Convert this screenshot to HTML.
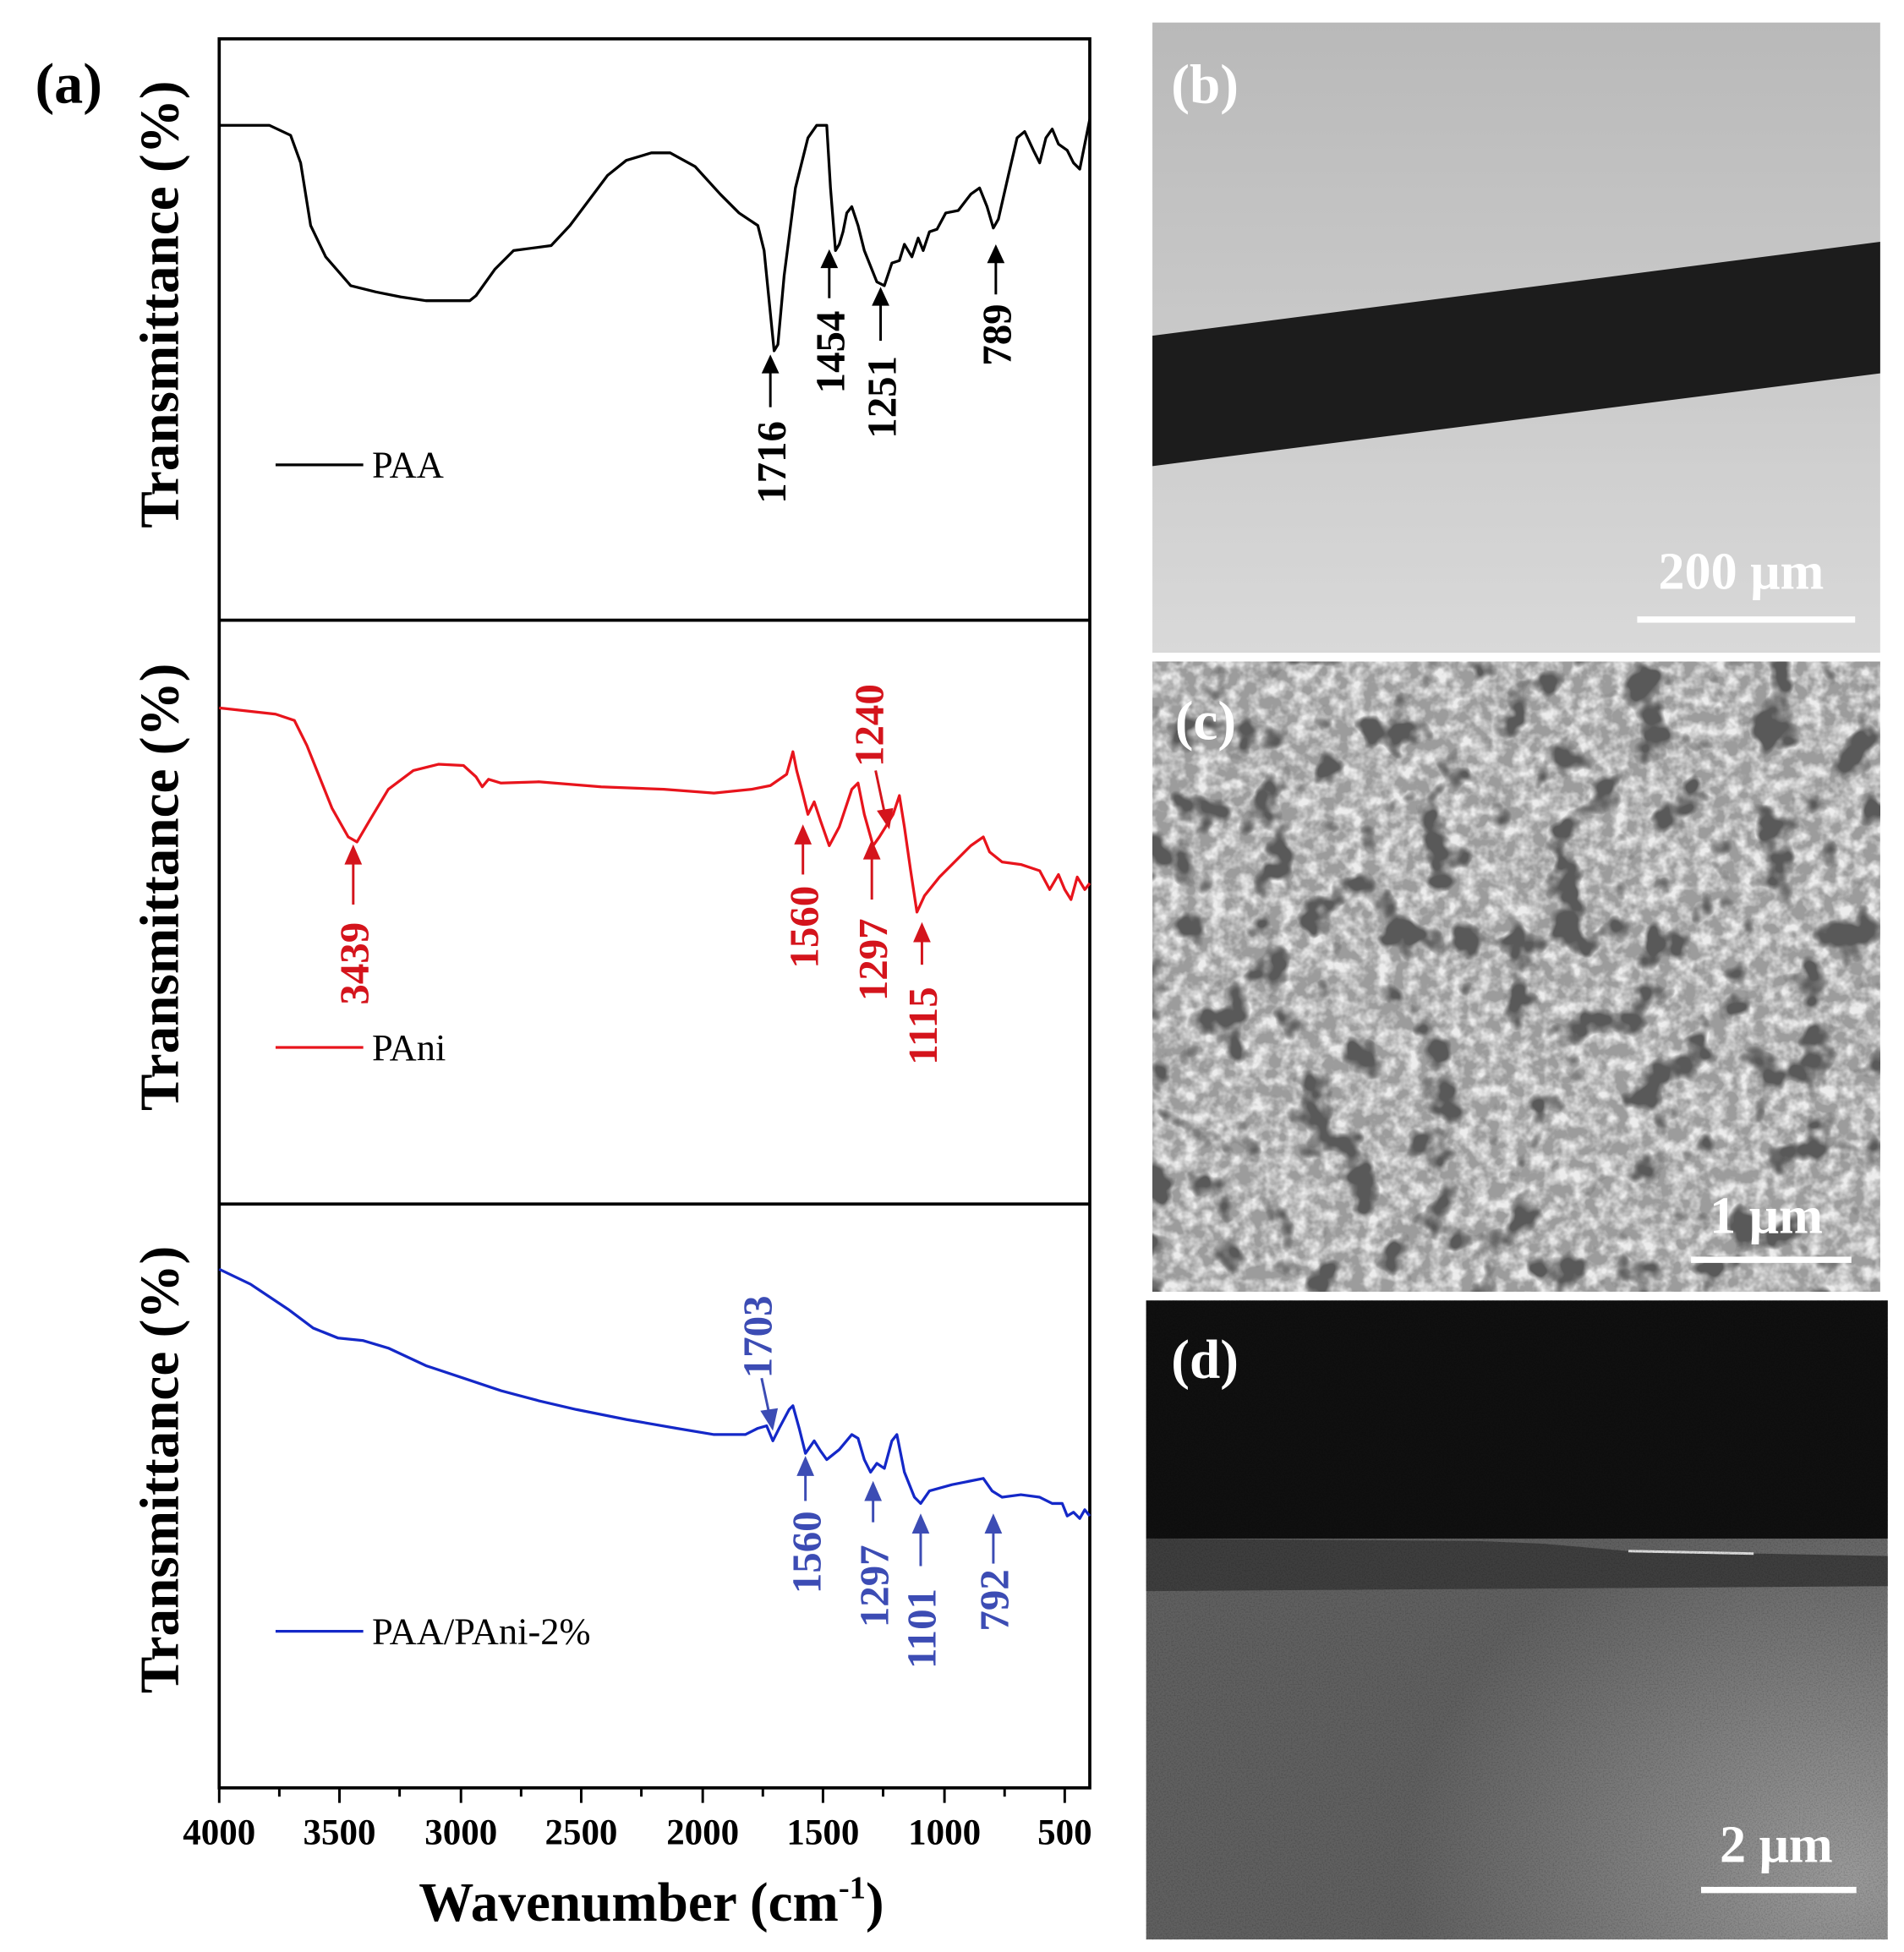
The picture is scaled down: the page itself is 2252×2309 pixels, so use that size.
<!DOCTYPE html>
<html><head><meta charset="utf-8"><style>html,body{margin:0;padding:0;background:#fff}svg{display:block}</style></head>
<body>
<svg width="2252" height="2309" viewBox="0 0 1520 1558" preserveAspectRatio="none" xmlns="http://www.w3.org/2000/svg" font-family="Liberation Serif, serif">
<defs>
<filter id="semholes" x="0" y="0" width="100%" height="100%">
<feTurbulence type="fractalNoise" baseFrequency="0.03" numOctaves="3" seed="7"/>
<feColorMatrix type="matrix" values="0 0 0 0 0.1  0 0 0 0 0.1  0 0 0 0 0.1  0 0 0 7 -4.0"/>
</filter>
<filter id="semgrain" x="0" y="0" width="100%" height="100%">
<feTurbulence type="fractalNoise" baseFrequency="0.09" numOctaves="3" seed="2"/>
<feColorMatrix type="matrix" values="0 0 0 0 0.85  0 0 0 0 0.85  0 0 0 0 0.85  0 0 0 2.5 -0.9"/>
</filter>
<filter id="noise" x="0" y="0" width="100%" height="100%">
<feTurbulence type="fractalNoise" baseFrequency="0.9" numOctaves="1" seed="5"/>
<feColorMatrix type="matrix" values="0 0 0 0 0  0 0 0 0 0  0 0 0 0 0  0 0 0 -0.6 0.35"/>
</filter>
<linearGradient id="gb" x1="0" y1="0" x2="0" y2="1"><stop offset="0" stop-color="#b9b9b9"/><stop offset="1" stop-color="#d9d9d9"/></linearGradient>
<radialGradient id="gd" cx="0.95" cy="0.9" r="0.6"><stop offset="0" stop-color="#9a9a9a"/><stop offset="1" stop-color="#606060"/></radialGradient>
</defs>

<!-- panel (a) -->
<text x="28" y="82" font-size="46" font-weight="bold">(a)</text>
<rect x="175" y="31" width="695" height="1396" fill="none" stroke="#000" stroke-width="2.5"/>
<line x1="175" y1="495" x2="870" y2="495" stroke="#000" stroke-width="2.5"/>
<line x1="175" y1="961" x2="870" y2="961" stroke="#000" stroke-width="2.5"/>
<g stroke="#000" stroke-width="2">
<line x1="175" y1="1427" x2="175" y2="1439"/><line x1="223" y1="1427" x2="223" y2="1434"/>
<line x1="271" y1="1427" x2="271" y2="1439"/><line x1="319" y1="1427" x2="319" y2="1434"/>
<line x1="368" y1="1427" x2="368" y2="1439"/><line x1="416" y1="1427" x2="416" y2="1434"/>
<line x1="464" y1="1427" x2="464" y2="1439"/><line x1="512" y1="1427" x2="512" y2="1434"/>
<line x1="561" y1="1427" x2="561" y2="1439"/><line x1="609" y1="1427" x2="609" y2="1434"/>
<line x1="657" y1="1427" x2="657" y2="1439"/><line x1="705" y1="1427" x2="705" y2="1434"/>
<line x1="754" y1="1427" x2="754" y2="1439"/><line x1="802" y1="1427" x2="802" y2="1434"/>
<line x1="850" y1="1427" x2="850" y2="1439"/>
</g>
<g font-size="29" font-weight="bold" text-anchor="middle">
<text x="175" y="1472">4000</text><text x="271" y="1472">3500</text><text x="368" y="1472">3000</text>
<text x="464" y="1472">2500</text><text x="561" y="1472">2000</text><text x="657" y="1472">1500</text>
<text x="754" y="1472">1000</text><text x="850" y="1472">500</text>
</g>
<text x="520" y="1533" font-size="44" font-weight="bold" text-anchor="middle">Wavenumber (cm<tspan dy="-18" font-size="26">-1</tspan><tspan dy="18">)</tspan></text>
<g font-size="44" font-weight="bold" text-anchor="middle">
<text transform="translate(142,243) rotate(-90)">Transmittance (%)</text>
<text transform="translate(142,708) rotate(-90)">Transmittance (%)</text>
<text transform="translate(142,1173) rotate(-90)">Transmittance (%)</text>
</g>

<!-- spectra -->
<polyline fill="none" stroke="#000" stroke-width="2.2" stroke-linejoin="round" points="175,100 215,100 232,108 240,130 248,180 260,205 280,228 300,233 320,237 340,240 375,240 380,236 395,215 410,200 425,198 440,196 455,180 470,160 485,140 500,128 520,122 535,122 555,133 575,155 590,170 605,180 610,200 615,250 618,280 621,275 626,220 635,150 645,110 652,100 660,100 663,150 667,200 670,195 673,185 676,170 680,165 685,180 690,200 700,225 706,228 712,210 718,208 722,195 728,205 733,190 737,200 742,185 748,183 755,170 765,168 775,155 782,150 788,165 793,182 797,175 805,140 812,110 818,105 825,120 830,130 835,110 840,103 845,115 852,120 857,130 862,135 866,115 870,95"/>
<polyline fill="none" stroke="#e8141c" stroke-width="2.2" stroke-linejoin="round" points="175,565 220,570 235,575 245,595 255,620 265,645 278,668 285,672 295,655 310,630 330,615 350,610 370,611 380,620 385,628 390,622 400,625 430,624 480,628 530,630 570,633 600,630 615,627 628,618 633,600 636,615 640,630 645,650 650,640 655,655 662,675 670,660 680,630 685,625 690,650 697,675 702,668 707,660 713,650 718,635 722,660 727,695 732,728 738,715 750,700 765,685 775,675 785,668 790,680 800,688 815,690 830,695 838,710 845,698 850,710 855,718 860,700 866,710 870,705"/>
<polyline fill="none" stroke="#1428c8" stroke-width="2.2" stroke-linejoin="round" points="175,1013 200,1025 230,1045 250,1060 270,1068 290,1070 310,1076 340,1090 370,1100 400,1110 430,1118 460,1125 500,1133 540,1140 570,1145 595,1145 605,1140 612,1138 617,1150 622,1140 630,1125 633,1122 638,1140 643,1160 650,1150 655,1158 660,1165 670,1157 680,1145 685,1148 690,1165 695,1175 700,1168 706,1172 712,1150 716,1145 722,1175 730,1195 735,1200 742,1190 760,1185 775,1182 785,1180 792,1190 800,1195 815,1193 830,1195 840,1200 848,1200 852,1210 857,1207 862,1212 866,1205 870,1210"/>

<!-- legends -->
<g font-size="30">
<line x1="220" y1="371" x2="290" y2="371" stroke="#000" stroke-width="2.2"/><text x="297" y="381">PAA</text>
<line x1="220" y1="836" x2="290" y2="836" stroke="#e8141c" stroke-width="2.2"/><text x="297" y="846">PAni</text>
<line x1="220" y1="1302" x2="290" y2="1302" stroke="#1428c8" stroke-width="2.2"/><text x="297" y="1312">PAA/PAni-2%</text>
</g>

<!-- annotations -->
<g font-size="33" font-weight="bold">
<g fill="#000" stroke="#000">
<text stroke="none" transform="translate(627,402) rotate(-90)">1716</text><line x1="615" y1="325" x2="615" y2="296" stroke-width="2"/><path d="M608,298 L615,283 L622,298Z" stroke="none"/>
<text stroke="none" transform="translate(674,314) rotate(-90)">1454</text><line x1="662" y1="238" x2="662" y2="212" stroke-width="2"/><path d="M655,214 L662,199 L669,214Z" stroke="none"/>
<text stroke="none" transform="translate(715,350) rotate(-90)">1251</text><line x1="703" y1="272" x2="703" y2="242" stroke-width="2"/><path d="M696,244 L703,229 L710,244Z" stroke="none"/>
<text stroke="none" transform="translate(807,292) rotate(-90)">789</text><line x1="795" y1="235" x2="795" y2="208" stroke-width="2"/><path d="M788,210 L795,195 L802,210Z" stroke="none"/>
</g>
<g fill="#d4141c" stroke="#d4141c">
<text stroke="none" transform="translate(294,802) rotate(-90)">3439</text><line x1="282" y1="722" x2="282" y2="688" stroke-width="2"/><path d="M275,690 L282,674 L289,690Z" stroke="none"/>
<text stroke="none" transform="translate(653,773) rotate(-90)">1560</text><line x1="641" y1="698" x2="641" y2="672" stroke-width="2"/><path d="M634,674 L641,658 L648,674Z" stroke="none"/>
<text stroke="none" transform="translate(708,799) rotate(-90)">1297</text><line x1="696" y1="718" x2="696" y2="684" stroke-width="2"/><path d="M689,686 L696,670 L703,686Z" stroke="none"/>
<text stroke="none" transform="translate(748,850) rotate(-90)">1115</text><line x1="736" y1="770" x2="736" y2="750" stroke-width="2"/><path d="M729,752 L736,736 L743,752Z" stroke="none"/>
<text stroke="none" transform="translate(705,612) rotate(-90)">1240</text><line x1="699" y1="615" x2="706" y2="648" stroke-width="2"/><path d="M700,647 L710,662 L713,645Z" stroke="none"/>
</g>
<g fill="#3c4cb4" stroke="#3c4cb4">
<text stroke="none" transform="translate(616,1100) rotate(-90)">1703</text><line x1="608" y1="1100" x2="614" y2="1128" stroke-width="2"/><path d="M607,1126 L617,1142 L621,1124Z" stroke="none"/>
<text stroke="none" transform="translate(655,1272) rotate(-90)">1560</text><line x1="643" y1="1198" x2="643" y2="1176" stroke-width="2"/><path d="M636,1178 L643,1162 L650,1178Z" stroke="none"/>
<text stroke="none" transform="translate(709,1299) rotate(-90)">1297</text><line x1="697" y1="1215" x2="697" y2="1196" stroke-width="2"/><path d="M690,1198 L697,1182 L704,1198Z" stroke="none"/>
<text stroke="none" transform="translate(747,1332) rotate(-90)">1101</text><line x1="735" y1="1250" x2="735" y2="1222" stroke-width="2"/><path d="M728,1224 L735,1208 L742,1224Z" stroke="none"/>
<text stroke="none" transform="translate(805,1302) rotate(-90)">792</text><line x1="793" y1="1248" x2="793" y2="1222" stroke-width="2"/><path d="M786,1224 L793,1208 L800,1224Z" stroke="none"/>
</g>
</g>

<!-- (b) -->
<rect x="920" y="18" width="581" height="503" fill="url(#gb)"/>
<polygon points="920,268 1501,193 1501,298 920,372" fill="#1c1c1c"/>
<text x="935" y="82" font-size="44" font-weight="bold" fill="#fff">(b)</text>
<text x="1390" y="470" font-size="42" font-weight="bold" fill="#fff" text-anchor="middle">200 μm</text>
<rect x="1307" y="492" width="174" height="5" fill="#fff"/>

<!-- (c) -->
<rect x="920" y="528" width="581" height="503" fill="#9c9c9c"/>
<rect x="920" y="528" width="581" height="503" filter="url(#semgrain)"/>
<rect x="920" y="528" width="581" height="503" filter="url(#semholes)"/>
<text x="938" y="590" font-size="44" font-weight="bold" fill="#fff">(c)</text>
<text x="1410" y="984" font-size="42" font-weight="bold" fill="#fff" text-anchor="middle">1 μm</text>
<rect x="1350" y="1003" width="128" height="5" fill="#fff"/>

<!-- (d) -->
<rect x="915" y="1038" width="592" height="510" fill="url(#gd)"/>
<rect x="915" y="1038" width="592" height="190" fill="#101010"/>
<polygon points="915,1228 1180,1230 1230,1232 1300,1238 1507,1242 1507,1266 915,1270" fill="#3e3e3e"/>
<line x1="1300" y1="1238" x2="1400" y2="1240" stroke="#ddd" stroke-width="2"/>
<rect x="915" y="1038" width="592" height="510" filter="url(#noise)" opacity="0.7"/>
<text x="935" y="1100" font-size="44" font-weight="bold" fill="#fff">(d)</text>
<text x="1418" y="1486" font-size="42" font-weight="bold" fill="#fff" text-anchor="middle">2 μm</text>
<rect x="1358" y="1506" width="124" height="5" fill="#fff"/>
</svg>
</body></html>
